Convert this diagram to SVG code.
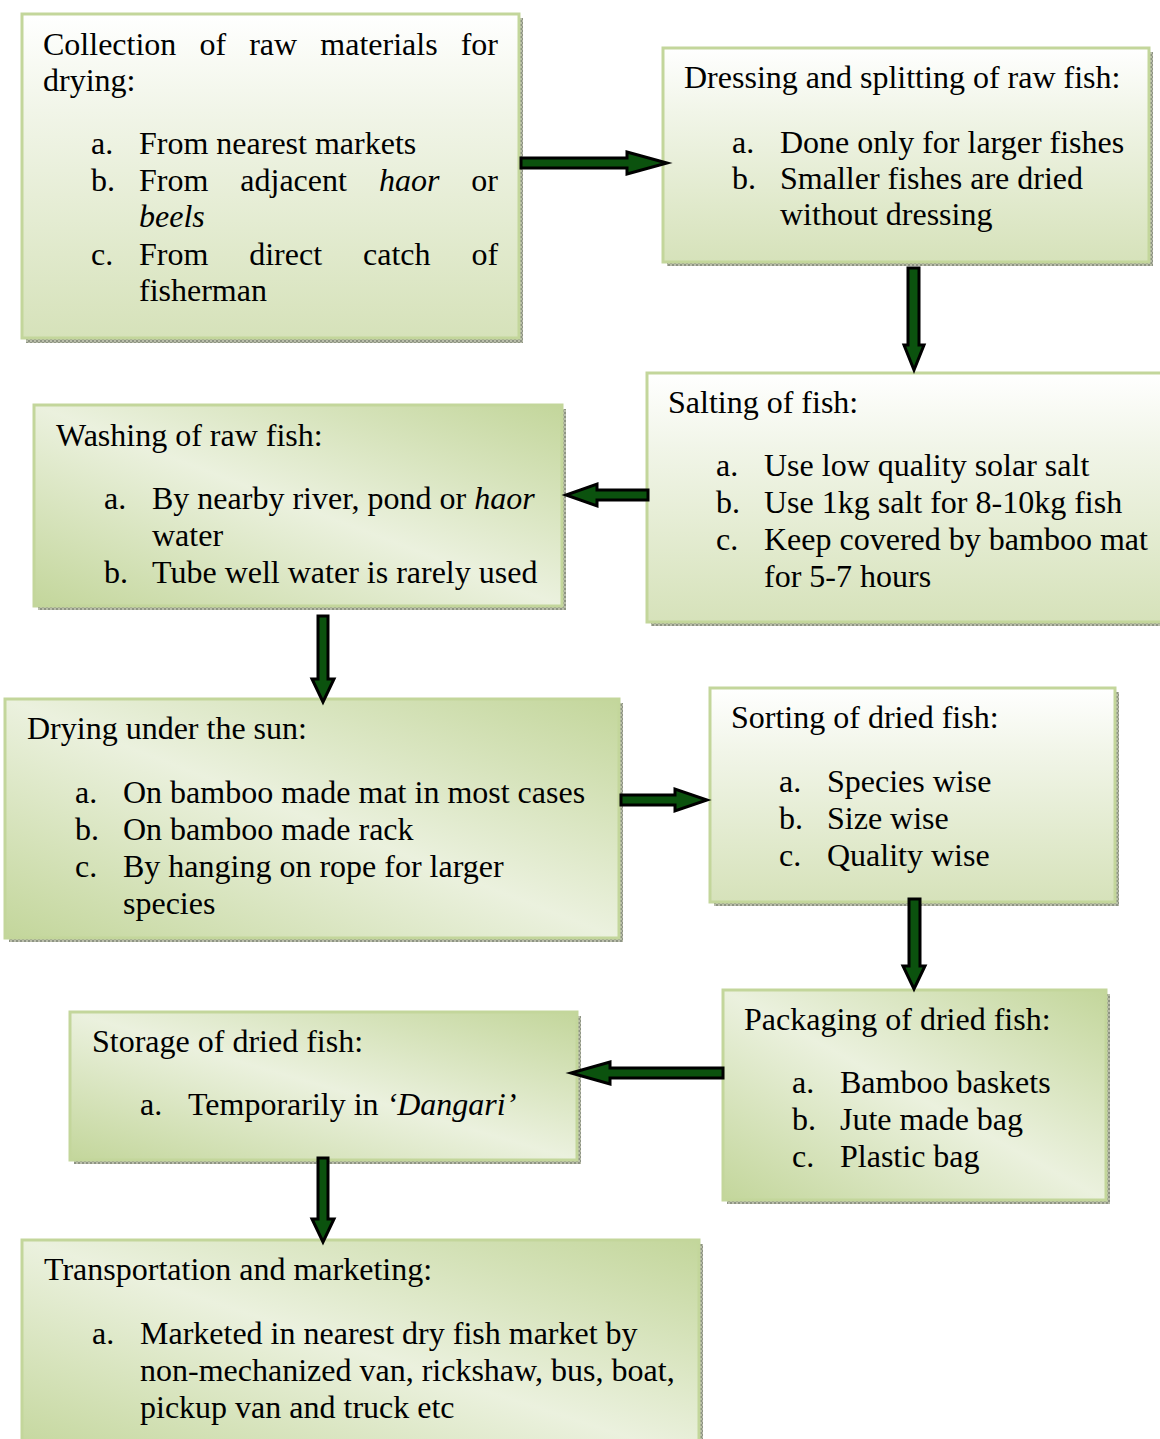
<svg xmlns="http://www.w3.org/2000/svg" width="1160" height="1439" viewBox="0 0 1160 1439">
<defs>
<linearGradient id="gv" x1="0" y1="0" x2="0" y2="1">
<stop offset="0" stop-color="#ffffff"/>
<stop offset="0.3" stop-color="#f1f5e8"/>
<stop offset="1" stop-color="#d6e2ba"/>
</linearGradient>
<linearGradient id="gd" x1="1" y1="0" x2="0" y2="1">
<stop offset="0" stop-color="#c3d69b"/>
<stop offset="0.5" stop-color="#ebf1de"/>
<stop offset="1" stop-color="#c3d69b"/>
</linearGradient>
<pattern id="sh" width="4" height="4" patternUnits="userSpaceOnUse">
<rect width="4" height="4" fill="#b9bdaa"/>
<rect width="2" height="2" fill="#8e9484"/>
<rect x="2" y="2" width="2" height="2" fill="#8e9484"/>
</pattern>
</defs>
<style>
.t{font-family:"Liberation Serif","Times New Roman",serif;font-size:32px;fill:#000}
.i{font-style:italic}
.bv{fill:url(#gv);stroke:#c3d69b;stroke-width:3}
.bd{fill:url(#gd);stroke:#c3d69b;stroke-width:3}
.sd{fill:url(#sh)}
.ar{fill:#0b520e;stroke:#000;stroke-width:3;stroke-linejoin:miter}
</style>
<rect width="1160" height="1439" fill="#ffffff"/>

<g id="collection">
<rect class="sd" x="26" y="18" width="497" height="325"/>
<rect class="bv" x="22" y="14" width="497" height="324"/>
<text class="t" y="55"><tspan x="43">Collection</tspan><tspan x="199.4">of</tspan><tspan x="249.2">raw</tspan><tspan x="320.3">materials</tspan><tspan x="460.7">for</tspan></text>
<text class="t" x="43" y="91">drying:</text>
<text class="t" x="91" y="154">a.</text><text class="t" x="139" y="154">From nearest markets</text>
<text class="t" x="91" y="191">b.</text>
<text class="t" y="191"><tspan x="139">From</tspan><tspan x="240.3">adjacent</tspan><tspan x="378.9" class="i">haor</tspan><tspan x="471.3">or</tspan></text>
<text class="t i" x="139" y="227">beels</text>
<text class="t" x="91" y="265">c.</text>
<text class="t" y="265"><tspan x="139">From</tspan><tspan x="249.2">direct</tspan><tspan x="363">catch</tspan><tspan x="471.4">of</tspan></text>
<text class="t" x="139" y="301">fisherman</text>
</g>

<g id="dressing">
<rect class="sd" x="667" y="52" width="486" height="214"/>
<rect class="bv" x="663" y="48" width="486" height="214"/>
<text class="t" x="684" y="88">Dressing and splitting of raw fish:</text>
<text class="t" x="732" y="153">a.</text><text class="t" x="780" y="153">Done only for larger fishes</text>
<text class="t" x="732" y="189">b.</text><text class="t" x="780" y="189">Smaller fishes are dried</text>
<text class="t" x="780" y="225">without dressing</text>
</g>

<g id="salting">
<rect class="sd" x="651" y="377" width="520" height="249"/>
<rect class="bv" x="647" y="373" width="520" height="249"/>
<text class="t" x="668" y="413">Salting of fish:</text>
<text class="t" x="716" y="476">a.</text><text class="t" x="764" y="476">Use low quality solar salt</text>
<text class="t" x="716" y="513">b.</text><text class="t" x="764" y="513">Use 1kg salt for 8-10kg fish</text>
<text class="t" x="716" y="550">c.</text><text class="t" x="764" y="550">Keep covered by bamboo mat</text>
<text class="t" x="764" y="587">for 5-7 hours</text>
</g>

<g id="washing">
<rect class="sd" x="38" y="409" width="528" height="201"/>
<rect class="bd" x="34" y="405" width="528" height="201"/>
<text class="t" x="56" y="446">Washing of raw fish:</text>
<text class="t" x="104" y="509">a.</text><text class="t" x="152" y="509">By nearby river, pond or <tspan class="i">haor</tspan></text>
<text class="t" x="152" y="546">water</text>
<text class="t" x="104" y="583">b.</text><text class="t" x="152" y="583">Tube well water is rarely used</text>
</g>

<g id="drying">
<rect class="sd" x="9" y="703" width="614" height="239"/>
<rect class="bd" x="5" y="699" width="614" height="239"/>
<text class="t" x="27" y="739">Drying under the sun:</text>
<text class="t" x="75" y="803">a.</text><text class="t" x="123" y="803">On bamboo made mat in most cases</text>
<text class="t" x="75" y="840">b.</text><text class="t" x="123" y="840">On bamboo made rack</text>
<text class="t" x="75" y="877">c.</text><text class="t" x="123" y="877">By hanging on rope for larger</text>
<text class="t" x="123" y="914">species</text>
</g>

<g id="sorting">
<rect class="sd" x="714" y="692" width="405" height="214"/>
<rect class="bv" x="710" y="688" width="405" height="214"/>
<text class="t" x="731" y="728">Sorting of dried fish:</text>
<text class="t" x="779" y="792">a.</text><text class="t" x="827" y="792">Species wise</text>
<text class="t" x="779" y="829">b.</text><text class="t" x="827" y="829">Size wise</text>
<text class="t" x="779" y="866">c.</text><text class="t" x="827" y="866">Quality wise</text>
</g>

<g id="packaging">
<rect class="sd" x="727" y="994" width="383" height="210"/>
<rect class="bd" x="723" y="990" width="383" height="210"/>
<text class="t" x="744" y="1030">Packaging of dried fish:</text>
<text class="t" x="792" y="1093">a.</text><text class="t" x="840" y="1093">Bamboo baskets</text>
<text class="t" x="792" y="1130">b.</text><text class="t" x="840" y="1130">Jute made bag</text>
<text class="t" x="792" y="1167">c.</text><text class="t" x="840" y="1167">Plastic bag</text>
</g>

<g id="storage">
<rect class="sd" x="74" y="1016" width="507" height="148"/>
<rect class="bd" x="70" y="1012" width="507" height="148"/>
<text class="t" x="92" y="1052">Storage of dried fish:</text>
<text class="t" x="140" y="1115">a.</text><text class="t" x="188" y="1115">Temporarily in <tspan class="i">‘Dangari’</tspan></text>
</g>

<g id="transportation">
<rect class="sd" x="26" y="1244" width="677" height="220"/>
<rect class="bd" x="22" y="1240" width="677" height="220"/>
<text class="t" x="44" y="1280">Transportation and marketing:</text>
<text class="t" x="92" y="1344">a.</text><text class="t" x="140" y="1344">Marketed in nearest dry fish market by</text>
<text class="t" x="140" y="1381">non-mechanized van, rickshaw, bus, boat,</text>
<text class="t" x="140" y="1418">pickup van and truck etc</text>
</g>

<g id="connectors">
<polygon class="ar" points="521,158 627,158 627,152 667,163 627,174 627,168 521,168"/>
<polygon class="ar" points="908,268 919,268 919,345 924,345 914,370 904,345 908,345"/>
<polygon class="ar" points="648,490 597,490 597,484 566,495 597,506 597,500 648,500"/>
<polygon class="ar" points="318,616 328,616 328,679 334,679 323,702 312,679 318,679"/>
<polygon class="ar" points="621,795 675,795 675,789 707,800 675,811 675,805 621,805"/>
<polygon class="ar" points="909,899 920,899 920,966 925,966 914,989 903,966 909,966"/>
<polygon class="ar" points="723,1068 610,1068 610,1062 571,1073 610,1084 610,1078 723,1078"/>
<polygon class="ar" points="318,1158 328,1158 328,1219 334,1219 323,1242 312,1219 318,1219"/>
</g>
</svg>
